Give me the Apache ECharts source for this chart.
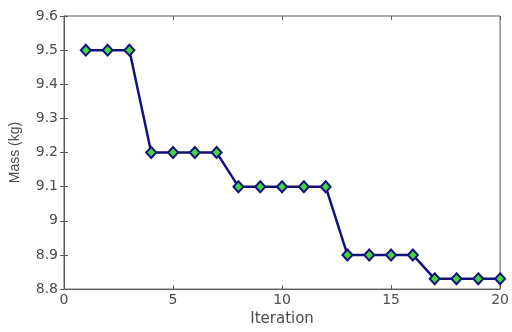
<!DOCTYPE html>
<html>
<head>
<meta charset="utf-8">
<script src="https://cdn.jsdelivr.net/npm/echarts@6/dist/echarts.min.js"></script>
<style>
  html, body { margin: 0; padding: 0; background: #fff; }
  #chart { width: 512px; height: 332px; }
</style>
</head>
<body>
<div id="chart"></div>
<script>
// Mass per optimisation iteration
const iterations = [1, 2, 3, 4, 5, 6, 7, 8, 9, 10, 11, 12, 13, 14, 15, 16, 17, 18, 19, 20];
const mass = [9.5, 9.5, 9.5, 9.2, 9.2, 9.2, 9.2, 9.1, 9.1, 9.1, 9.1, 9.1, 8.9, 8.9, 8.9, 8.9, 8.83, 8.83, 8.83, 8.83];
const xTicks = [0, 5, 10, 15, 20];
const yTicks = [8.8, 8.9, 9, 9.1, 9.2, 9.3, 9.4, 9.5, 9.6];

const tickFont = { fontFamily: 'DejaVu Sans, sans-serif', fontSize: 14, color: '#4d4d4d' };
const fmtY = v => String(+v.toFixed(1));
const frame = '#5a5a5a';

const chart = echarts.init(document.getElementById('chart'), null, { renderer: 'canvas' });
chart.setOption({
  animation: false,
  backgroundColor: '#fff',
  grid: {
    left: 64, right: 2, top: 16, bottom: 38,
    show: true, borderColor: frame, borderWidth: 1, backgroundColor: '#fff'
  },
  xAxis: [
    {
      type: 'value', min: xTicks[0], max: xTicks[xTicks.length - 1], interval: 5,
      name: 'Iteration', nameLocation: 'middle', nameGap: 22,
      nameTextStyle: { fontFamily: 'DejaVu Sans, sans-serif', fontSize: 15, color: '#4d4d4d' },
      axisLine: { show: true, lineStyle: { color: frame } },
      axisTick: { show: true, inside: true, length: 4, lineStyle: { color: frame } },
      axisLabel: Object.assign({ margin: 4 }, tickFont),
      splitLine: { show: false }
    },
    {
      type: 'value', position: 'top', min: 0, max: 20, interval: 5,
      axisLine: { show: false },
      axisTick: { show: true, inside: true, length: 4, lineStyle: { color: frame } },
      axisLabel: { show: false }, splitLine: { show: false }
    }
  ],
  yAxis: [
    {
      type: 'value', min: yTicks[0], max: yTicks[yTicks.length - 1], interval: 0.1,
      name: 'Mass (kg)', nameLocation: 'middle', nameGap: 42,
      nameTextStyle: { fontFamily: 'Liberation Sans, Arial, sans-serif', fontSize: 14, color: '#4d4d4d' },
      axisLine: { show: true, lineStyle: { color: frame } },
      axisTick: { show: true, inside: true, length: 4, lineStyle: { color: frame } },
      axisLabel: Object.assign({ margin: 6, formatter: fmtY }, tickFont),
      splitLine: { show: false }
    },
    {
      type: 'value', position: 'right', min: 8.8, max: 9.6, interval: 0.1,
      axisLine: { show: false },
      axisTick: { show: true, inside: true, length: 4, lineStyle: { color: frame } },
      axisLabel: { show: false }, splitLine: { show: false }
    }
  ],
  series: [{
    type: 'line',
    data: iterations.map((it, i) => [it, mass[i]]),
    symbol: 'diamond',
    symbolSize: [10, 11],
    lineStyle: { color: '#12127a', width: 2.5 },
    itemStyle: { color: '#3fd83f', borderColor: '#12127a', borderWidth: 2 }
  }]
});
</script>
</body>
</html>
